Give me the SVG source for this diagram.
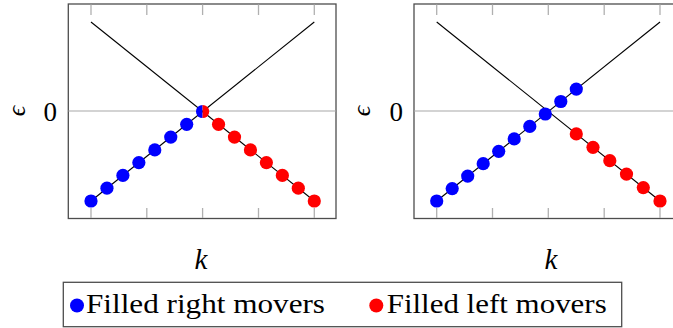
<svg xmlns="http://www.w3.org/2000/svg" width="673" height="328" viewBox="0 0 673 328">
<style>
.frame{fill:none;stroke:#4d4d4d;stroke-width:1.3}
.tick{stroke:#b0b0b0;stroke-width:1.3}
.zero{stroke:#a8a8a8;stroke-width:1.2}
.band{stroke:#000;stroke-width:1.1;fill:none}
.b{fill:#0000ff}
.r{fill:#ff0000}
text{fill:#000}
</style>
<defs>
<clipPath id="lh"><rect x="-8" y="-8" width="8" height="16"/></clipPath>
<clipPath id="rh"><rect x="0" y="-8" width="8" height="16"/></clipPath>
</defs>

<g id="plot-left">
<rect class="frame" x="68.3" y="4" width="267.7" height="214.5"/>
<line class="zero" x1="68.3" y1="111" x2="336" y2="111"/>
<g class="tick">
<line x1="91" y1="4.5" x2="91" y2="15"/><line x1="146.8" y1="4.5" x2="146.8" y2="15"/><line x1="202.6" y1="4.5" x2="202.6" y2="15"/><line x1="258.5" y1="4.5" x2="258.5" y2="15"/><line x1="314.3" y1="4.5" x2="314.3" y2="15"/>
<line x1="91" y1="208" x2="91" y2="218"/><line x1="146.8" y1="208" x2="146.8" y2="218"/><line x1="202.6" y1="208" x2="202.6" y2="218"/><line x1="258.5" y1="208" x2="258.5" y2="218"/><line x1="314.3" y1="208" x2="314.3" y2="218"/>
</g>
<line class="band" x1="91" y1="22" x2="314.3" y2="201"/>
<line class="band" x1="91" y1="201" x2="314.3" y2="22"/>
<g class="b">
<circle cx="91" cy="201" r="6.6"/><circle cx="106.95" cy="188.2" r="6.6"/><circle cx="122.9" cy="175.4" r="6.6"/><circle cx="138.85" cy="162.6" r="6.6"/><circle cx="154.8" cy="149.9" r="6.6"/><circle cx="170.75" cy="137.1" r="6.6"/><circle cx="186.7" cy="124.3" r="6.6"/>
</g>
<g class="r">
<circle cx="218.55" cy="124.3" r="6.6"/><circle cx="234.5" cy="137.1" r="6.6"/><circle cx="250.45" cy="149.9" r="6.6"/><circle cx="266.4" cy="162.6" r="6.6"/><circle cx="282.35" cy="175.4" r="6.6"/><circle cx="298.3" cy="188.2" r="6.6"/><circle cx="314.3" cy="201" r="6.6"/>
</g>
<g transform="translate(202.6,111.5)">
<circle class="b" r="6.6" clip-path="url(#lh)"/>
<circle class="r" r="6.6" clip-path="url(#rh)"/>
</g>
<text font-family="Liberation Serif, DejaVu Serif, serif" font-style="italic" font-size="26" text-anchor="middle" dominant-baseline="central" transform="translate(16,111) rotate(-90)">ϵ</text>
<text font-family="Liberation Serif, DejaVu Serif, serif" x="50.3" y="121.3" font-size="27" text-anchor="middle">0</text>
<text font-family="Liberation Serif, DejaVu Serif, serif" font-style="italic" x="201" y="269" font-size="29" text-anchor="middle">k</text>
</g>

<g id="plot-right">
<rect class="frame" x="414" y="4" width="267.7" height="214.5"/>
<line class="zero" x1="414" y1="111" x2="681.7" y2="111"/>
<g class="tick">
<line x1="436.7" y1="4.5" x2="436.7" y2="15"/><line x1="492.5" y1="4.5" x2="492.5" y2="15"/><line x1="548.3" y1="4.5" x2="548.3" y2="15"/><line x1="604.2" y1="4.5" x2="604.2" y2="15"/><line x1="660" y1="4.5" x2="660" y2="15"/>
<line x1="436.7" y1="208" x2="436.7" y2="218"/><line x1="492.5" y1="208" x2="492.5" y2="218"/><line x1="548.3" y1="208" x2="548.3" y2="218"/><line x1="604.2" y1="208" x2="604.2" y2="218"/><line x1="660" y1="208" x2="660" y2="218"/>
</g>
<line class="band" x1="436.7" y1="22" x2="660" y2="201"/>
<line class="band" x1="436.7" y1="201" x2="660" y2="22"/>
<g class="b">
<circle cx="436.7" cy="201" r="6.6"/><circle cx="452.2" cy="188.6" r="6.6"/><circle cx="467.7" cy="176.1" r="6.6"/><circle cx="483.2" cy="163.7" r="6.6"/><circle cx="498.7" cy="151.3" r="6.6"/><circle cx="514.2" cy="138.9" r="6.6"/><circle cx="529.8" cy="126.4" r="6.6"/><circle cx="545.3" cy="114" r="6.6"/><circle cx="560.8" cy="101.5" r="6.6"/><circle cx="576.3" cy="89.1" r="6.6"/>
</g>
<g class="r">
<circle cx="576.3" cy="133.9" r="6.6"/><circle cx="593" cy="147.3" r="6.6"/><circle cx="609.8" cy="160.7" r="6.6"/><circle cx="626.5" cy="174.1" r="6.6"/><circle cx="643.3" cy="187.6" r="6.6"/><circle cx="660" cy="201" r="6.6"/>
</g>
<text font-family="Liberation Serif, DejaVu Serif, serif" font-style="italic" font-size="26" text-anchor="middle" dominant-baseline="central" transform="translate(361.7,111) rotate(-90)">ϵ</text>
<text font-family="Liberation Serif, DejaVu Serif, serif" x="396.3" y="121.3" font-size="27" text-anchor="middle">0</text>
<text font-family="Liberation Serif, DejaVu Serif, serif" font-style="italic" x="551" y="269" font-size="29" text-anchor="middle">k</text>
</g>

<g id="legend">
<rect x="63.3" y="282.3" width="558.4" height="44.4" fill="#fff" stroke="#4d4d4d" stroke-width="1.3"/>
<circle class="b" cx="77" cy="305.5" r="7"/>
<text font-family="Liberation Serif, DejaVu Serif, serif" x="86" y="313.3" font-size="27.5" textLength="239" lengthAdjust="spacingAndGlyphs">Filled right movers</text>
<circle class="r" cx="376.3" cy="305.5" r="7"/>
<text font-family="Liberation Serif, DejaVu Serif, serif" x="386.7" y="313.3" font-size="27.5" textLength="220" lengthAdjust="spacingAndGlyphs">Filled left movers</text>
</g>
<g id="connectors"/>
</svg>
